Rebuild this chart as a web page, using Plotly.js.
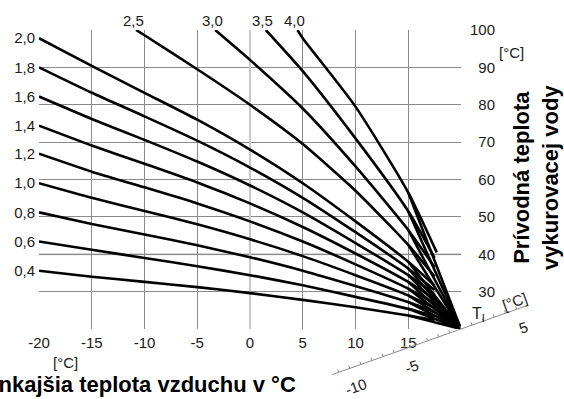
<!DOCTYPE html>
<html><head><meta charset="utf-8">
<script src="https://cdn.plot.ly/plotly-3.0.1.min.js"></script>
<style>html,body{margin:0;padding:0;background:#fff;}#chart{width:564px;height:399px;}</style>
</head><body><div id="chart"></div>
<script>
// ---- data ----
const outdoorTemps = [-20, -15, -10, -5, 0, 5, 10, 15, 17.5];
const flow04 = [35.6, 34.0, 32.6, 31.2, 29.6, 27.8, 25.8, 23.6, 22.4];
const flow06 = [43.4, 41.2, 39.0, 36.8, 34.4, 31.7, 28.6, 25.4, 23.4];
const flow08 = [51.2, 48.1, 45.3, 42.4, 39.2, 35.6, 31.5, 27.2, 24.5];
const flow10 = [59.0, 55.1, 51.6, 48.0, 44.0, 39.5, 34.4, 29.0, 25.6];
const flow12 = [66.9, 62.1, 57.9, 53.6, 48.8, 43.4, 37.3, 30.8, 26.8];
const flow14 = [74.4, 69.1, 64.2, 59.2, 53.6, 47.3, 40.2, 32.6, 28.0];
const flow16 = [82.2, 76.2, 70.6, 64.8, 58.4, 51.2, 43.0, 34.4, 29.2];
const flow18 = [90.0, 83.2, 76.9, 70.4, 63.2, 55.1, 45.9, 36.2, 30.4];
const flow20 = [97.8, 90.4, 83.2, 76.0, 68.0, 59.0, 48.8, 38.0, 31.6];
const temps25 = [-10.8, -10, -5, 0, 5, 10, 15, 17.5];
const flow25  = [100, 98.6, 89.5, 80.0, 69.5, 57.0, 42.5, 34.0];
const temps30 = [-3.3, 0, 5, 10, 15, 17.5];
const flow30  = [100, 92.0, 79.0, 63.5, 46.5, 36.5];
const temps35 = [1.5, 5, 10, 15, 17.5];
const flow35  = [100, 89.0, 71.0, 51.5, 39.0];
const temps40 = [4.5, 5, 10, 15, 17.7];
const flow40  = [100, 97.8, 79.5, 56.5, 40.5];
const lowLabels = ['0,4','0,6','0,8','1,0','1,2','1,4','1,6','1,8','2,0'];
const highLabels = ['2,5','3,0','3,5','4,0'];
const xTickVals = [-20, -15, -10, -5, 0, 5, 10, 15, 20];
const xTickText = ['-20','-15','-10','-5','0','5','10','15',' '];
const yTickVals = [20, 30, 40, 50, 60, 70, 80, 90, 100];
const yTickText = [' ', '\u200730','\u200740','\u200750','\u200760','\u200770','\u200780','\u200790','100'];
const apex = [20, 20];          // common point of all curves (outdoor, flow)
const roomShiftTicks = [5, -5, -10];

// ---- build ----
const FONT = 'Liberation Sans, Arial, sans-serif';
const lowCurves = [flow04, flow06, flow08, flow10, flow12, flow14, flow16, flow18, flow20];
const highCurves = [[temps25, flow25], [temps30, flow30], [temps35, flow35], [temps40, flow40]];
const allCurves = lowCurves.map(f => [outdoorTemps, f]).concat(highCurves);

const traces = allCurves.map(([xs, ys]) => {
  const b = xs.length - 2; // branch point toward the common point
  return {
    type: 'scatter', mode: 'lines', hoverinfo: 'skip', showlegend: false,
    x: xs.concat([null, xs[b], apex[0]]),
    y: ys.concat([null, ys[b], apex[1]]),
    line: {color: '#000', width: 2.6, shape: 'spline', smoothing: 0.6},
    xaxis: 'x', yaxis: 'y'
  };
});
// invisible trace for the left label axis
traces.push({type: 'scatter', mode: 'none', x: [-20], y: [flow04[0]], yaxis: 'y2', hoverinfo: 'skip', showlegend: false});

const M = {l: 39, r: 103, t: 30, b: 70};
const W = 564, H = 399, PW = W - M.l - M.r, PH = H - M.t - M.b;
const px = x => (x - M.l) / PW;
const py = y => (H - M.b - y) / PH;

// oblique room-temperature axis through the common point
const ang = 19.5 * Math.PI / 180, unitPx = 11.8;
const apexPx = [M.l + PW, H - M.b];
const obl = (t, perp) => [apexPx[0] + t * Math.cos(ang) * unitPx + perp * Math.sin(ang),
                          apexPx[1] - t * Math.sin(ang) * unitPx + perp * Math.cos(ang)];
const shapes = [];
const a0 = obl(-11.6, 0), a1 = obl(5.8, 0);
shapes.push({type: 'line', xref: 'paper', yref: 'paper', x0: px(a0[0]), y0: py(a0[1]), x1: px(a1[0]), y1: py(a1[1]),
  line: {color: '#8a8a8a', width: 1}});
for (let t = -11; t <= 5; t++) {
  const p0 = obl(t, 0), p1 = obl(t, -3);
  shapes.push({type: 'line', xref: 'paper', yref: 'paper', x0: px(p0[0]), y0: py(p0[1]), x1: px(p1[0]), y1: py(p1[1]),
    line: {color: '#8a8a8a', width: 1}});
}
// anti-aliased looking gridline at 40
shapes.push({type: 'line', xref: 'paper', yref: 'y', x0: 0, x1: 1, y0: 40, y1: 40, layer: 'below',
  line: {color: '#c8c8c8', width: 2}});

const annotations = [];
highCurves.forEach(([xs], i) => annotations.push({
  xref: 'x', yref: 'y', x: xs[0], y: 100, xanchor: 'center', yanchor: 'bottom', xshift: -3, yshift: -1,
  text: highLabels[i], showarrow: false, font: {family: FONT, size: 15, color: '#1a1a1a'}}));
const txt = (x, y, text, opts) => annotations.push(Object.assign({
  xref: 'paper', yref: 'paper', x: px(x), y: py(y), text: text, showarrow: false,
  xanchor: 'center', yanchor: 'middle', font: {family: FONT, size: 15, color: '#1a1a1a'}}, opts || {}));
txt(511, 53, '[°C]');
txt(536, 178, '<b>Prívodná teplota<br>vykurovacej vody</b>', {textangle: -90, font: {family: FONT, size: 22, color: '#000'}});
txt(298, 384, '<b>Vonkajšia teplota vzduchu v °C</b>', {xanchor: 'right', font: {family: FONT, size: 22, color: '#000'}});
txt(65, 362, '[°C]');
txt(478, 314, 'T<sub>I</sub>', {font: {family: FONT, size: 16, color: '#1a1a1a'}});
txt(514, 301, '[°C]', {textangle: -19.5});
roomShiftTicks.forEach(t => {
  const p = obl(t, 19);
  txt(p[0], p[1], String(t), {textangle: -19.5});
});

const axisFont = {family: FONT, size: 15, color: '#1a1a1a'};
const layout = {
  width: W, height: H, margin: M, paper_bgcolor: '#fff', plot_bgcolor: '#fff', showlegend: false,
  xaxis: {range: [-20, 20], tickmode: 'array', tickvals: xTickVals, ticktext: xTickText, ticks: '',
    showgrid: true, gridcolor: '#8a8a8a', gridwidth: 1, zeroline: true, zerolinecolor: '#c8c8c8', zerolinewidth: 2,
    showline: false, tickfont: axisFont, ticklabelstandoff: 3, fixedrange: true},
  yaxis: {range: [20, 100], side: 'right', tickmode: 'array', tickvals: yTickVals, ticktext: yTickText, ticks: '',
    showgrid: true, gridcolor: '#8a8a8a', gridwidth: 1, zeroline: false, showline: false, tickfont: axisFont,
    ticklabelstandoff: 8, fixedrange: true},
  yaxis2: {range: [20, 100], overlaying: 'y', side: 'left', tickmode: 'array',
    tickvals: lowCurves.map(f => f[0]), ticktext: lowLabels, ticks: '', showgrid: false, zeroline: false,
    showline: false, tickfont: axisFont, ticklabelstandoff: 3, fixedrange: true},
  shapes: shapes, annotations: annotations
};
Plotly.newPlot('chart', traces, layout, {staticPlot: true, displayModeBar: false});
</script></body></html>
